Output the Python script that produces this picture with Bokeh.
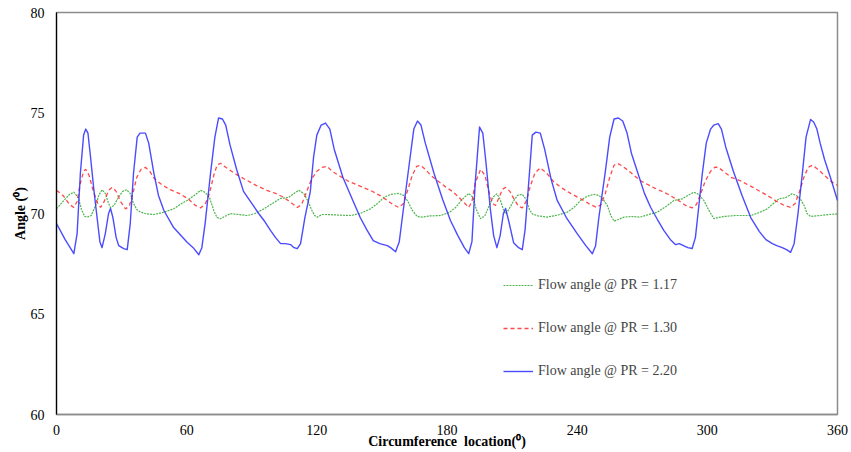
from bokeh.plotting import figure
from bokeh.models import ColumnDataSource, Legend, LegendItem, FixedTicker, Range1d
from bokeh.embed import file_html
from bokeh.resources import INLINE

# ---- data (degrees, angle) ----
blue_x = [0, 4, 8, 9.5, 11, 12.5, 13.5, 14.5, 15.7, 17.2, 18.7, 20, 21, 22.5, 24, 24.9, 26, 27.5, 28.7, 31, 32.6, 34, 35.5, 37.2, 38.5, 41, 42.5, 44.9, 47, 49.5, 54, 60.2, 63, 65.6, 67, 68.5, 71, 73, 74.7, 76.5, 78, 80, 83, 86.2, 90, 93.2, 96, 98.7, 101, 103.3, 105.5, 108, 109.5, 111, 112.5, 114.5, 117, 118.5, 120, 122, 124, 126, 128, 132, 136, 140, 143, 146, 149, 152.5, 154, 156.3, 158, 160, 163, 164.7, 166.4, 168, 170, 174, 178, 181.6, 185, 188, 190, 191.5, 193, 195, 196.5, 198, 200, 201.5, 203, 204.5, 206, 207, 208.5, 210.7, 213, 214.7, 216, 218, 219.3, 221, 223, 225, 228, 230.8, 235, 240, 244, 247, 248.5, 250, 253, 255, 257, 259, 261, 263, 265, 267.7, 271, 273.9, 277, 280, 283, 285.4, 287, 289, 291, 293, 294.5, 296, 297.7, 299.5, 301.5, 303, 305, 306.5, 308.5, 312, 316, 320, 324, 327, 330, 332, 334.5, 336.5, 338.4, 340, 341.8, 343.8, 345.5, 347.6, 349, 350.5, 352, 354, 357, 360]
blue_y = [69.5, 68.7, 68.0, 69.0, 72.0, 73.9, 74.2, 74.0, 72.8, 71.2, 69.8, 68.6, 68.3, 69.0, 70.0, 70.25, 69.8, 68.8, 68.4, 68.25, 68.2, 69.5, 72.0, 73.8, 74.0, 74.0, 73.5, 72.0, 70.9, 70.15, 69.3, 68.57, 68.3, 67.95, 68.3, 69.5, 72.0, 73.8, 74.75, 74.7, 74.4, 73.4, 72.2, 71.1, 70.5, 70.0, 69.6, 69.15, 68.8, 68.5, 68.5, 68.45, 68.3, 68.25, 68.5, 69.8, 71.1, 72.8, 73.9, 74.4, 74.5, 74.2, 73.2, 71.8, 70.8, 69.8, 69.2, 68.65, 68.5, 68.4, 68.3, 68.1, 68.6, 70.3, 72.8, 74.2, 74.6, 74.4, 73.5, 72.0, 70.7, 69.65, 68.9, 68.3, 68.0, 68.6, 71.5, 74.3, 74.0, 72.5, 70.2, 68.9, 68.3, 68.9, 70.0, 70.25, 69.6, 68.55, 68.3, 68.2, 69.2, 72.0, 73.9, 74.05, 74.0, 73.2, 71.7, 70.65, 69.8, 69.0, 68.4, 68.0, 68.4, 69.8, 72.1, 73.8, 74.7, 74.75, 74.6, 74.0, 73.0, 72.1, 71.0, 70.3, 69.7, 69.15, 68.7, 68.45, 68.5, 68.4, 68.3, 68.26, 68.8, 70.3, 72.0, 73.5, 74.2, 74.4, 74.47, 74.2, 73.3, 72.1, 70.9, 69.8, 69.1, 68.7, 68.5, 68.4, 68.3, 68.2, 68.07, 68.5, 70.0, 72.0, 73.8, 74.68, 74.55, 74.2, 73.5, 72.7, 71.7, 70.65]

red_x = [0, 3, 6, 8, 9.5, 11, 12.5, 13.5, 15, 17, 19, 20.3, 22, 24, 25.7, 27.5, 29.5, 31.8, 33.5, 35, 37, 39, 41, 43, 45, 48, 52, 57, 61, 64, 66.4, 68.5, 70.5, 72.5, 74, 75.6, 78, 82, 86.4, 92, 97, 101, 104.8, 108, 111, 113, 115, 117.5, 120, 122.5, 124.8, 127, 130, 134, 139, 144.7, 149, 152.5, 155, 157.8, 160, 162, 164, 166, 167.8, 170, 172.5, 175.5, 179, 183, 186.5, 190, 191.5, 193, 195.5, 197.5, 199.5, 201, 202.4, 204, 205.5, 207, 209, 211, 213, 214.7, 216.5, 218.5, 220.5, 223, 226, 229, 232.4, 237, 243, 246, 249, 251, 253, 255, 257, 258.5, 261, 264, 269, 275, 281.5, 286, 290, 293, 295, 297, 299, 301.5, 303.5, 305, 308, 311, 315, 321, 327.6, 332, 335.5, 338.4, 340.5, 342.5, 344.5, 346.5, 348.4, 351, 354, 357, 360]
red_y = [71.15, 70.9, 70.45, 70.3, 70.6, 71.5, 72.1, 72.2, 71.9, 71.1, 70.5, 70.3, 70.6, 71.15, 71.3, 71.1, 70.6, 70.23, 70.35, 70.9, 71.8, 72.2, 72.3, 72.1, 71.75, 71.48, 71.2, 70.98, 70.7, 70.4, 70.28, 70.45, 71.0, 71.9, 72.4, 72.5, 72.3, 72.0, 71.73, 71.4, 71.15, 71.0, 70.8, 70.55, 70.3, 70.45, 71.0, 71.7, 72.1, 72.3, 72.34, 72.1, 71.9, 71.64, 71.4, 71.15, 70.9, 70.65, 70.45, 70.3, 70.5, 71.2, 71.9, 72.35, 72.4, 72.2, 71.9, 71.64, 71.35, 71.06, 70.7, 70.3, 70.6, 71.5, 72.2, 71.9, 71.0, 70.5, 70.4, 70.8, 71.2, 71.3, 71.1, 70.7, 70.35, 70.28, 70.6, 71.4, 72.0, 72.27, 72.0, 71.6, 71.3, 71.0, 70.65, 70.45, 70.3, 70.45, 71.0, 71.8, 72.4, 72.5, 72.35, 72.1, 71.64, 71.3, 70.98, 70.7, 70.4, 70.28, 70.45, 71.0, 71.6, 72.1, 72.3, 72.3, 72.05, 71.8, 71.64, 71.3, 70.9, 70.6, 70.4, 70.3, 70.5, 71.1, 71.8, 72.3, 72.4, 72.2, 71.9, 71.6, 71.4]

green_x = [0, 3, 6, 8, 10, 11.5, 13, 14.1, 16, 18, 19.5, 21, 22.5, 24, 24.9, 26.5, 28.5, 30.5, 32.3, 34, 35.5, 37, 38.7, 41.5, 44.9, 49, 54, 57, 60.2, 63.5, 66.4, 68.5, 70.5, 72.5, 74, 75.6, 77.5, 80.2, 84, 87.9, 91.5, 95.6, 99.5, 103.3, 107, 109.5, 111.7, 114, 116, 117.5, 119, 120.2, 122.5, 124.8, 130, 135.5, 140, 144.7, 148, 150.9, 154, 157.8, 160, 162, 164, 166.3, 168.5, 172, 177, 181, 184, 187, 190, 192, 193.5, 195.5, 197.5, 199.5, 201.5, 203, 204.5, 206, 207, 208.5, 210.5, 212.5, 214.7, 216.5, 218, 219.3, 222, 226, 231, 235.5, 238.5, 241.6, 244.5, 247.7, 250, 252, 253.9, 255.5, 257, 259, 261.6, 265, 269, 273, 277, 281, 284.6, 288.5, 291, 293.8, 296, 298.4, 300.5, 303, 305, 307.7, 313, 320, 324, 327.6, 330.5, 333, 336, 339, 341, 343, 344.6, 346, 347.6, 350, 352, 356, 360]
green_y = [70.23, 70.6, 70.95, 71.06, 70.8, 70.2, 69.85, 69.82, 69.9, 70.4, 70.9, 71.18, 71.0, 70.5, 70.3, 70.4, 70.8, 71.1, 71.18, 71.0, 70.5, 70.2, 70.07, 69.98, 69.95, 70.05, 70.23, 70.45, 70.65, 70.9, 71.15, 71.05, 70.8, 70.15, 69.8, 69.74, 69.85, 69.99, 69.95, 69.9, 70.0, 70.23, 70.5, 70.75, 70.8, 71.0, 71.15, 71.0, 70.6, 70.2, 69.9, 69.82, 69.95, 69.95, 69.92, 69.9, 70.0, 70.23, 70.5, 70.8, 70.95, 71.0, 70.9, 70.6, 70.15, 69.85, 69.82, 69.88, 69.9, 70.05, 70.3, 70.7, 71.0, 70.8, 70.2, 69.74, 69.9, 70.4, 70.85, 70.98, 70.7, 70.2, 69.98, 70.2, 70.6, 70.9, 70.95, 70.7, 70.2, 69.98, 69.88, 69.82, 69.92, 70.07, 70.3, 70.65, 70.85, 70.95, 70.9, 70.7, 70.4, 69.9, 69.62, 69.7, 69.82, 69.85, 69.82, 69.95, 70.07, 70.35, 70.65, 70.73, 70.9, 71.06, 70.95, 70.65, 70.2, 69.74, 69.8, 69.85, 69.9, 69.9, 70.05, 70.23, 70.5, 70.73, 70.78, 70.98, 70.9, 70.7, 70.4, 70.0, 69.85, 69.88, 69.9, 69.95, 69.98]

x_ticks = [0, 60, 120, 180, 240, 300, 360]
y_ticks = [60, 65, 70, 75, 80]
labels = ["Flow angle @ PR = 1.17", "Flow angle @ PR = 1.30", "Flow angle @ PR = 2.20"]

FONT = "Liberation Serif"

p = figure(width=851, height=452, output_backend="svg", toolbar_location=None,
           x_range=Range1d(0, 360), y_range=Range1d(60, 80),
           min_border_left=56, min_border_right=14, min_border_top=12, min_border_bottom=38)
p.background_fill_color = "white"
p.border_fill_color = "white"
p.outline_line_color = "#8c8c8c"
p.outline_line_width = 1.5
p.xgrid.visible = False
p.ygrid.visible = False

g = p.line(green_x, green_y, line_color="#2ea82e", line_width=1.2, line_dash="2 1", line_alpha=0.85)
r = p.line(red_x, red_y, line_color="#ff2a2a", line_width=1.3, line_dash="4 3", line_alpha=0.85)
b = p.line(blue_x, blue_y, line_color="#2b2bff", line_width=1.4, line_alpha=0.85, line_join="round")

for ax in (p.xaxis[0], p.yaxis[0]):
    ax.major_tick_line_color = None
    ax.minor_tick_line_color = None
    ax.major_label_text_font = FONT
    ax.major_label_text_font_size = "14px"
    ax.major_label_text_color = "black"
    ax.axis_label_text_font = FONT
    ax.axis_label_text_font_style = "bold"
    ax.axis_label_text_font_size = "14px"
    ax.axis_label_text_color = "black"

p.xaxis.ticker = FixedTicker(ticks=x_ticks)
p.yaxis.ticker = FixedTicker(ticks=y_ticks)
p.xaxis.axis_line_color = "#8c8c8c"
p.xaxis.axis_line_width = 1.5
p.yaxis.axis_line_color = "black"
p.yaxis.axis_line_width = 1.2
p.xaxis.axis_label = "Circumference\u00a0\u00a0location(⁰)"
p.yaxis.axis_label = "Angle (⁰)"
p.xaxis.major_label_standoff = 4
p.xaxis.axis_label_standoff = -4
p.yaxis.major_label_standoff = 6
p.yaxis.axis_label_standoff = 0

legend = Legend(items=[LegendItem(label=labels[0], renderers=[g]),
                       LegendItem(label=labels[1], renderers=[r]),
                       LegendItem(label=labels[2], renderers=[b])],
                location=(447, 33), padding=0, margin=0, spacing=23,
                glyph_width=30, glyph_height=20, label_standoff=5,
                label_text_font=FONT, label_text_font_size="14px",
                border_line_color=None, background_fill_alpha=0)
p.add_layout(legend)

open("out.html", "w").write(file_html(p, INLINE))
